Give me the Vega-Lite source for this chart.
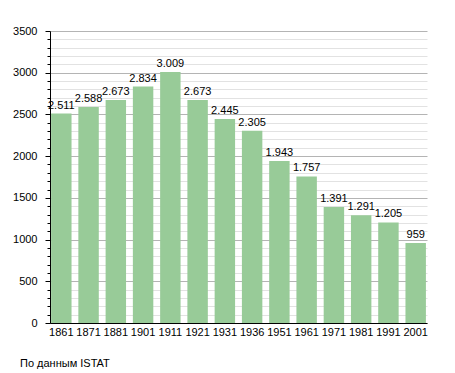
{
  "$schema": "https://vega.github.io/schema/vega-lite/v6.json",
  "autosize": {"type": "none"},
  "width": 377,
  "height": 292,
  "padding": {"left": 50, "top": 31, "right": 28, "bottom": 50},
  "background": "white",
  "config": {
    "locale": {"number": {"decimal": ",", "thousands": ".", "grouping": [3], "currency": ["", " €"]}},
    "font": "Liberation Sans",
    "view": {"stroke": null}
  },
  "title": {
    "text": "По данным ISTAT",
    "orient": "bottom",
    "anchor": "start",
    "frame": "group",
    "dx": -30,
    "offset": 21,
    "fontSize": 11,
    "fontWeight": "normal",
    "color": "#000000",
    "font": "Liberation Sans"
  },
  "data": {
    "values": [
      {"year": "1861", "pop": 2511},
      {"year": "1871", "pop": 2588},
      {"year": "1881", "pop": 2673},
      {"year": "1901", "pop": 2834},
      {"year": "1911", "pop": 3009},
      {"year": "1921", "pop": 2673},
      {"year": "1931", "pop": 2445},
      {"year": "1936", "pop": 2305},
      {"year": "1951", "pop": 1943},
      {"year": "1961", "pop": 1757},
      {"year": "1971", "pop": 1391},
      {"year": "1981", "pop": 1291},
      {"year": "1991", "pop": 1205},
      {"year": "2001", "pop": 959}
    ]
  },
  "encoding": {
    "x": {
      "field": "year",
      "type": "ordinal",
      "sort": null,
      "scale": {"paddingInner": 0.25, "paddingOuter": 0.04},
      "axis": {
        "title": null,
        "labelAngle": 0,
        "ticks": false,
        "domainColor": "#000000",
        "domainWidth": 1,
        "labelColor": "#000000",
        "labelFontSize": 11,
        "labelPadding": 3
      }
    },
    "y": {
      "field": "pop",
      "type": "quantitative",
      "scale": {"domain": [0, 3500], "nice": false},
      "axis": {
        "title": null,
        "values": [0,100,200,300,400,500,600,700,800,900,1000,1100,1200,1300,1400,1500,1600,1700,1800,1900,2000,2100,2200,2300,2400,2500,2600,2700,2800,2900,3000,3100,3200,3300,3400,3500],
        "format": "d",
        "labelExpr": "datum.value % 500 === 0 ? datum.label : ''",
        "grid": true,
        "gridColor": {"condition": {"test": "datum.value % 500 === 0", "value": "#b4b4b4"}, "value": "#e2e2e2"},
        "gridWidth": 1,
        "tickColor": "#000000",
        "tickSize": {"condition": {"test": "datum.value % 500 === 0", "value": 5}, "value": 3},
        "domainColor": "#000000",
        "domainWidth": 1,
        "labelColor": "#000000",
        "labelFontSize": 11,
        "labelPadding": 8,
        "labelOverlap": false
      }
    }
  },
  "layer": [
    {"mark": {"type": "bar", "color": "#98cb98"}},
    {
      "mark": {"type": "text", "baseline": "alphabetic", "dy": -5, "fontSize": 11, "color": "#000000", "font": "Liberation Sans"},
      "encoding": {"text": {"field": "pop", "type": "quantitative", "format": ",d"}}
    }
  ]
}
